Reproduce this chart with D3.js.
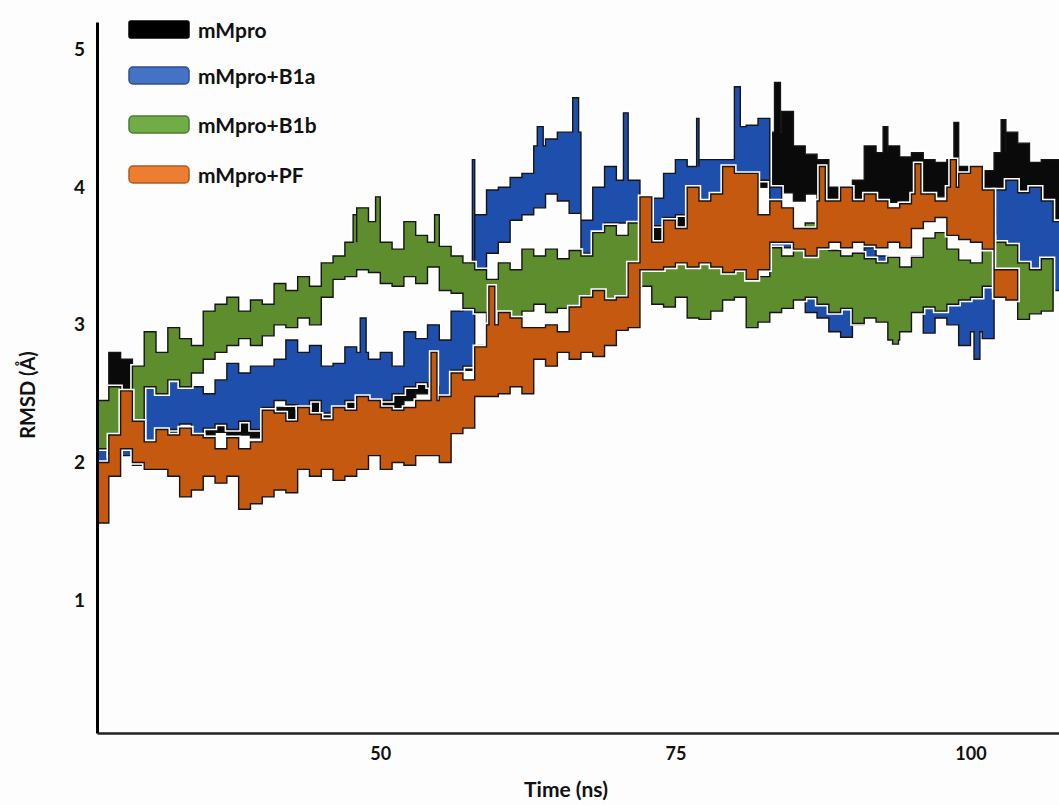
<!DOCTYPE html>
<html>
<head>
<meta charset="utf-8">
<script src="https://cdn.jsdelivr.net/npm/d3@7"></script>
<style>
  body { margin: 0; background: #fdfdfd; }
  svg { display: block; font-family: Lato, "Open Sans", sans-serif; }
</style>
</head>
<body>
<div id="chart"></div>
<script>
// RMSD traces (hi / lo, in Å)
const startTime = 26;

const mMproHi = [2.45,2.80,2.75,2.55,2.50,2.45,2.50,2.45,2.40,2.45,2.50,2.40,2.45,2.40,2.35,2.40,2.45,2.50,2.55,2.50,
  2.45,2.50,2.55,2.60,2.55,2.60,2.65,2.70,2.76,2.70,2.80,2.84,2.85,2.95,3.40,3.35,3.38,3.42,3.40,3.38,
  3.40,3.45,3.56,3.55,3.60,3.70,3.75,3.80,3.85,3.90,3.95,4.00,4.05,4.10,4.15,4.07,4.50,4.40,4.55,4.30,
  4.24,4.20,4.00,3.95,4.05,4.30,4.25,4.30,4.22,4.25,4.20,4.18,4.20,4.15,4.15,4.12,4.25,4.40,4.32,4.18,
  4.20,4.20];
const mMproLo = [2.05,2.40,2.30,2.20,2.10,2.15,2.20,2.15,2.18,2.20,2.22,2.15,2.20,2.18,2.15,2.20,2.25,2.30,2.30,2.32,
  2.28,2.30,2.35,2.35,2.40,2.40,2.45,2.50,2.55,2.60,2.60,2.67,2.65,2.60,3.10,3.15,3.15,3.20,3.25,3.20,
  3.25,3.30,3.40,3.40,3.45,3.50,3.55,3.60,3.60,3.65,3.70,3.75,3.80,3.85,3.90,3.85,4.00,4.00,3.96,3.90,
  3.95,3.89,3.80,3.75,3.85,3.89,3.90,3.89,3.90,3.86,3.90,3.93,3.95,3.90,3.88,3.90,3.95,3.95,3.90,3.85,
  3.60,3.57];
const mMproSpikes = [[83.4, 4.76], [92.6, 4.44], [98.6, 4.47], [102.6, 4.49]];

const b1aHi = [2.14,2.20,2.25,2.35,2.60,2.55,2.67,2.62,2.55,2.50,2.60,2.72,2.65,2.70,2.70,2.75,2.89,2.80,2.85,2.70,
  2.72,2.84,2.80,2.75,2.80,2.70,2.95,2.90,3.00,2.89,3.10,3.25,3.80,3.98,4.00,4.07,4.10,4.30,4.35,4.40,
  4.40,3.76,4.00,4.15,4.05,4.05,3.90,3.92,4.10,4.20,4.15,4.20,4.20,4.20,4.44,4.45,4.50,4.00,3.85,3.70,
  3.60,3.50,3.40,3.45,3.50,3.56,3.50,3.45,3.40,3.50,3.45,3.55,3.50,3.45,3.40,3.60,3.98,4.05,3.96,4.00,
  3.90,3.75];
const b1aLo = [1.95,2.00,2.05,1.98,2.00,2.05,2.24,2.28,2.21,2.25,2.28,2.24,2.30,2.24,2.40,2.45,2.42,2.40,2.45,2.36,
  2.40,2.45,2.48,2.45,2.45,2.50,2.55,2.58,2.55,2.48,2.67,2.70,3.35,3.52,3.60,3.76,3.80,3.85,3.95,3.90,
  3.81,3.52,3.60,3.74,3.74,3.74,3.71,3.72,3.78,3.80,3.78,3.71,3.72,3.75,4.10,4.10,4.05,3.56,3.56,3.30,
  3.09,3.05,2.95,2.91,3.00,3.28,3.20,3.23,3.10,3.23,2.94,3.05,3.00,2.85,2.95,2.90,3.38,3.40,3.38,3.35,
  3.30,3.25];
const b1aSpikes = [[48.3, 3.05], [57.8, 4.20], [63.3, 4.44], [66.3, 4.65], [70.6, 4.54], [76.8, 4.50], [80.0, 4.73], [100.3, 2.75]];

const b1bHi = [2.45,2.55,2.50,2.70,2.95,2.80,2.98,2.90,2.85,3.10,3.15,3.20,3.10,3.18,3.15,3.30,3.25,3.35,3.28,3.45,
  3.50,3.60,3.85,3.75,3.60,3.55,3.75,3.65,3.60,3.57,3.50,3.45,3.40,3.33,3.45,3.40,3.55,3.50,3.55,3.48,
  3.54,3.50,3.67,3.72,3.65,3.74,3.70,3.60,3.50,3.55,3.52,3.45,3.50,3.47,3.42,3.38,3.35,3.56,3.50,3.70,
  3.74,3.62,3.54,3.50,3.52,3.48,3.45,3.49,3.42,3.49,3.63,3.67,3.55,3.47,3.45,3.64,3.60,3.58,3.45,3.40,
  3.48];
const b1bLo = [2.10,2.05,2.15,2.10,2.55,2.50,2.60,2.55,2.65,2.75,2.80,2.85,2.90,2.85,2.92,3.00,2.98,3.05,3.00,3.20,
  3.33,3.35,3.40,3.38,3.30,3.28,3.35,3.30,3.42,3.25,3.23,3.12,3.09,2.82,2.98,3.00,3.10,3.15,3.09,3.12,
  3.13,3.15,3.10,3.00,3.05,3.25,3.28,3.15,3.13,3.20,3.05,3.04,3.10,3.18,3.20,2.98,3.02,3.09,3.12,3.18,
  3.20,3.15,3.09,3.12,3.01,3.05,3.02,2.89,2.95,3.09,3.13,3.10,3.15,3.18,3.20,3.28,3.25,3.30,3.04,3.08,
  3.10];
const b1bSpikes = [[47.7, 3.80], [49.6, 3.93], [54.6, 3.80], [93.4, 2.86]];

const pfHi = [2.00,2.20,2.52,2.30,2.15,2.24,2.20,2.25,2.20,2.18,2.10,2.18,2.10,2.15,2.38,2.36,2.30,2.40,2.35,2.31,
  2.40,2.38,2.48,2.45,2.40,2.38,2.40,2.45,2.45,2.48,2.65,2.60,2.84,3.00,3.09,3.05,2.98,2.98,3.00,2.95,
  3.13,3.20,3.25,3.18,3.20,3.45,3.93,3.60,3.76,3.70,4.00,3.90,3.95,4.15,4.10,4.10,3.80,3.90,3.85,3.70,
  3.70,3.90,3.90,4.00,3.90,3.95,3.90,3.85,3.88,3.95,3.95,3.90,4.00,4.10,4.15,3.98,3.40,3.40];
const pfLo = [1.56,1.90,2.10,2.00,1.95,1.95,1.90,1.75,1.80,1.90,1.85,1.90,1.66,1.70,1.75,1.80,1.78,1.95,1.90,1.95,
  1.87,1.90,1.95,2.05,1.95,2.00,1.98,2.05,2.05,2.00,2.21,2.25,2.48,2.48,2.50,2.55,2.50,2.75,2.70,2.80,
  2.75,2.80,2.77,2.85,2.96,2.98,3.40,3.40,3.42,3.45,3.42,3.45,3.42,3.38,3.40,3.33,3.40,3.60,3.60,3.55,
  3.50,3.56,3.60,3.56,3.60,3.58,3.56,3.60,3.56,3.70,3.75,3.78,3.65,3.62,3.60,3.55,3.20,3.18];
const pfSpikes = [[54.3, 2.80], [59.2, 3.28], [87.2, 4.15], [95.3, 4.17], [98.3, 4.20]];

const seriesNames = ["mMpro", "mMpro+B1a", "mMpro+B1b", "mMpro+PF"];
const traceColors = ["#0a0a0a", "#1f4fac", "#5d8d2c", "#c4590f"];
const legendColors = ["#000000", "#4472c4", "#70ad47", "#ed7d31"];
const legendStrokes = ["#000000", "#2f4f8f", "#4f7a30", "#ae5a21"];
const yTicks = [1, 2, 3, 4, 5];
const xTicks = [50, 75, 100];

const spikeWidth = 0.5;
const width = 1059, height = 805;

const svg = d3.select("#chart").append("svg")
    .attr("width", width)
    .attr("height", height);

const x = d3.scaleLinear().domain([26, 107.5]).range([97, 1059]);
const y = d3.scaleLinear().domain([0.035, 5.2]).range([733, 22]);

// turn the per-ns envelopes plus narrow spikes into step points
function toPoints(hi, lo, spikes) {
    let pts = [];
    hi.forEach(function (h, i) {
        let t0 = startTime + i;
        pts.push({t: t0, hi: h, lo: lo[i]});
        spikes.filter(s => s[0] >= t0 && s[0] < t0 + 1).forEach(function (s) {
            let p = {t: s[0], hi: h, lo: lo[i]};
            if (s[1] > h) p.hi = s[1]; else p.lo = s[1];
            pts.push(p);
            pts.push({t: Math.min(s[0] + spikeWidth, t0 + 1), hi: h, lo: lo[i]});
        });
    });
    let last = pts[pts.length - 1];
    pts.push({t: startTime + hi.length, hi: last.hi, lo: last.lo});
    return pts;
}

const series = [
    toPoints(mMproHi, mMproLo, mMproSpikes),
    toPoints(b1aHi, b1aLo, b1aSpikes),
    toPoints(b1bHi, b1bLo, b1bSpikes),
    toPoints(pfHi, pfLo, pfSpikes)
];

const area = d3.area()
    .curve(d3.curveStepAfter)
    .x(d => x(d.t))
    .y0(d => y(d.lo))
    .y1(d => y(d.hi));

svg.append("clipPath").attr("id", "plotClip")
    .append("rect").attr("x", 98).attr("y", 0).attr("width", width - 98).attr("height", 733);

const plot = svg.append("g").attr("clip-path", "url(#plotClip)");

series.forEach(function (s, i) {
    // white halo, then the filled band with a dark outline
    plot.append("path")
        .attr("d", area(s))
        .attr("fill", "none")
        .attr("stroke", "#ffffff")
        .attr("stroke-width", 4.5);
    plot.append("path")
        .attr("d", area(s))
        .attr("fill", traceColors[i])
        .attr("stroke", "#151515")
        .attr("stroke-width", 1.4);
});

// axes
const yAxis = svg.append("g")
    .attr("transform", "translate(97,0)")
    .call(d3.axisLeft(y).tickValues(yTicks).tickFormat(d3.format("d"))
        .tickSize(0).tickSizeOuter(0).tickPadding(12));
yAxis.select(".domain").attr("stroke", "#000").attr("stroke-width", 3);
yAxis.selectAll("text")
    .attr("font-size", 19).attr("font-weight", 700).attr("fill", "#111")
    .attr("font-family", "Lato, 'Open Sans', sans-serif");

const xAxis = svg.append("g")
    .attr("transform", "translate(0,733)")
    .call(d3.axisBottom(x).tickValues(xTicks).tickSize(0).tickSizeOuter(0).tickPadding(14));
xAxis.select(".domain").attr("stroke", "#222").attr("stroke-width", 2.5);
xAxis.selectAll("text")
    .attr("font-size", 18).attr("font-weight", 700).attr("fill", "#111")
    .attr("font-family", "Lato, 'Open Sans', sans-serif");

svg.append("text")
    .attr("x", 566).attr("y", 797)
    .attr("text-anchor", "middle")
    .attr("font-size", 21).attr("font-weight", 700).attr("fill", "#111")
    .text("Time (ns)");

svg.append("text")
    .attr("transform", "translate(35,395) rotate(-90)")
    .attr("text-anchor", "middle")
    .attr("font-size", 20).attr("font-weight", 700).attr("fill", "#111")
    .text("RMSD (Å)");

// legend
const legendY = [21, 67, 116, 166];
const legend = svg.append("g");
seriesNames.forEach(function (name, i) {
    legend.append("rect")
        .attr("x", 129).attr("y", legendY[i])
        .attr("width", 60).attr("height", 17)
        .attr("rx", i === 0 ? 2 : 4)
        .attr("fill", legendColors[i])
        .attr("stroke", legendStrokes[i])
        .attr("stroke-width", 1.5);
    legend.append("text")
        .attr("x", 198).attr("y", legendY[i] + 17)
        .attr("font-size", 21).attr("font-weight", 700).attr("fill", "#111")
        .text(name);
});
</script>
</body>
</html>
